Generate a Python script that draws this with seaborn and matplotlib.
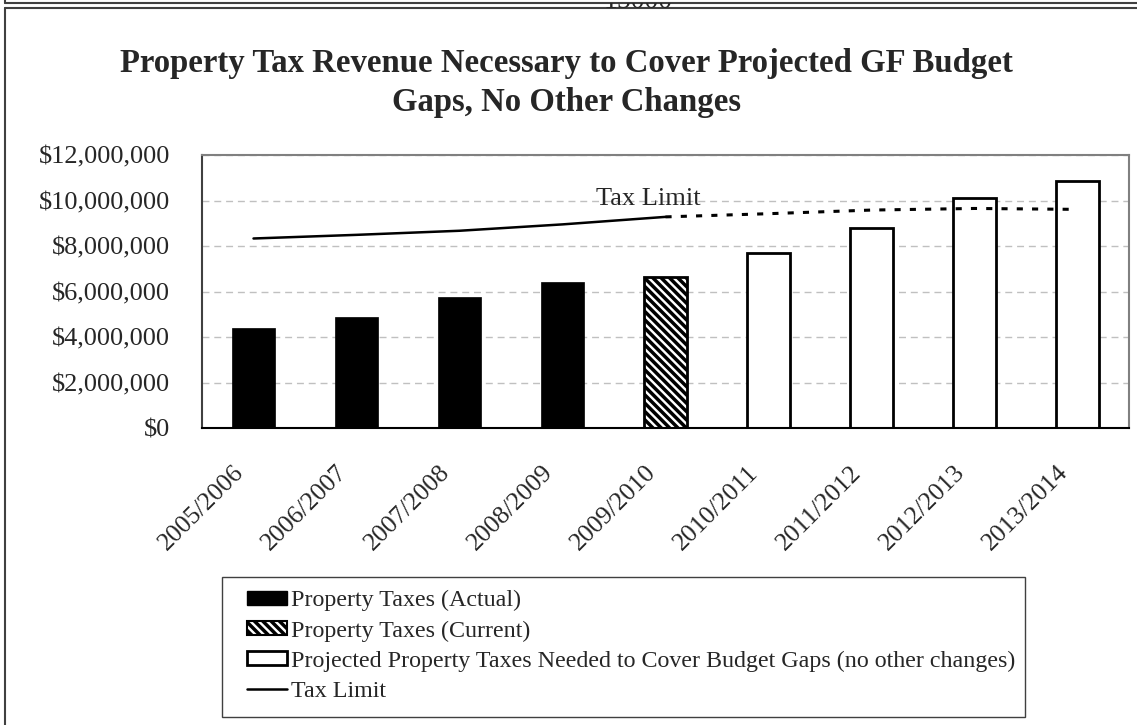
import pandas as pd
import numpy as np
import matplotlib.pyplot as plt
import matplotlib.patches as mpatches
import matplotlib.transforms as mtrans
from matplotlib.lines import Line2D
from matplotlib.ticker import FuncFormatter
import seaborn as sns

# data
periods = ['2005/2006', '2006/2007', '2007/2008', '2008/2009', '2009/2010',
           '2010/2011', '2011/2012', '2012/2013', '2013/2014']
actual = [4.40e6, 4.88e6, 5.78e6, 6.40e6]
current = [6.65e6]
projected = [7.69e6, 8.81e6, 10.09e6, 10.85e6]
tax_limit = [8.33e6, 8.49e6, 8.67e6, 8.95e6, 9.28e6]
tax_limit_proj = [9.28e6, 9.42e6, 9.58e6, 9.65e6, 9.61e6]

kinds = ['Property Taxes (Actual)', 'Property Taxes (Current)',
         'Projected Property Taxes Needed to Cover Budget Gaps (no other changes)']

df = pd.DataFrame({
    'period': periods,
    'value': actual + current + projected,
    'kind': [kinds[0]] * len(actual) + [kinds[1]] * len(current) + [kinds[2]] * len(projected),
})

sns.set_style('white')
plt.rcParams['font.family'] = ['Liberation Serif', 'DejaVu Serif']
plt.rcParams['hatch.linewidth'] = 2.5

W, H = 1137, 725
fig = plt.figure(figsize=(W / 100, H / 100), dpi=100)
ax = fig.add_axes([202 / W, 1 - 428 / H, (1129 - 202) / W, (428 - 155) / H])

sns.barplot(data=df, x='period', y='value', hue='kind', hue_order=kinds, dodge=False,
            width=0.42, palette={kinds[0]: 'black', kinds[1]: 'white', kinds[2]: 'white'},
            edgecolor='black', linewidth=2, legend=False, ax=ax, zorder=2)
for cont, kind in zip(ax.containers, kinds):
    for p in cont:
        if kind == kinds[1]:
            p.set_hatch('\\\\\\\\')
        if kind == kinds[0]:
            p.set_linewidth(0.5)

sns.lineplot(x=np.arange(0, 5), y=tax_limit, color='black', linewidth=1.8, ax=ax, zorder=4)
sns.lineplot(x=np.arange(4, 9), y=tax_limit_proj, color='black', linewidth=2.2,
             linestyle=(0, (2, 3)), ax=ax, zorder=4)
ax.text(3.83, 10.07e6, 'Tax Limit', ha='center', va='center', fontsize=19, zorder=5)

ax.set_xlim(-0.5, 8.5)
ax.set_ylim(0, 12e6)
ax.set_yticks(np.arange(0, 12e6 + 1, 2e6))
ax.yaxis.set_major_formatter(FuncFormatter(lambda v, p: f'${v:,.0f}'))
ax.set_xlabel('')
ax.set_ylabel('')

ax.set_xticks(np.arange(-0.5, 9, 1))
ax.set_xticklabels([''] * 10)
ax.set_xticks(np.arange(9), minor=True)
ax.set_xticklabels(periods, minor=True, rotation=45, ha='right', va='top',
                   rotation_mode='anchor', fontsize=18.5)
ax.tick_params(axis='x', which='minor', length=0, pad=24)
ax.tick_params(axis='both', which='major', direction='inout', length=12, width=1.2,
               color='#404040', labelsize=19)
ax.tick_params(axis='y', pad=17)
off = mtrans.ScaledTranslation(-0.21, 0, fig.dpi_scale_trans)
for lab in ax.get_xticklabels(minor=True):
    lab.set_transform(lab.get_transform() + off)

ax.yaxis.grid(True, color='#c0c0c0', linestyle=(0, (5, 3.5)), linewidth=1)
ax.set_axisbelow(True)
for side in ['top', 'right']:
    ax.spines[side].set_color('#808080')
    ax.spines[side].set_linewidth(1.5)
ax.spines['left'].set_color('#404040')
ax.spines['left'].set_linewidth(1.5)
ax.spines['bottom'].set_color('black')
ax.spines['bottom'].set_linewidth(1.5)

fig.text(566 / W, 1 - 83 / H, 'Property Tax Revenue Necessary to Cover Projected GF Budget\nGaps, No Other Changes',
         ha='center', va='center', fontsize=23.6, fontweight='bold', linespacing=1.32)

handles = [
    mpatches.Patch(facecolor='black', edgecolor='black'),
    mpatches.Patch(facecolor='white', edgecolor='black', hatch='\\\\\\\\', linewidth=1.5),
    mpatches.Patch(facecolor='white', edgecolor='black', linewidth=2),
    Line2D([], [], color='black', linewidth=1.8),
]
leg = fig.legend(handles, kinds + ['Tax Limit'], loc='upper left',
                 bbox_to_anchor=(247 / W, 1 - 590 / H), fontsize=17.3, frameon=False,
                 borderpad=0, handlelength=1.67, handleheight=0.5,
                 handletextpad=0.15, labelspacing=0.38, borderaxespad=0)
fig.add_artist(mpatches.Rectangle((222 / W, 1 - 717 / H), (1025 - 222) / W, (717 - 577) / H,
                                  transform=fig.transFigure, facecolor='none',
                                  edgecolor='#404040', linewidth=1))

# chart frame and the strip of the box above it
fc = '#404040'
fig.add_artist(Line2D([5 / W, 1], [1 - 8 / H, 1 - 8 / H], transform=fig.transFigure, color=fc, lw=1.5))
fig.add_artist(Line2D([5 / W, 5 / W], [1 - 8 / H, 0], transform=fig.transFigure, color=fc, lw=1.5))
fig.add_artist(Line2D([5 / W, 1], [1 - 2.5 / H, 1 - 2.5 / H], transform=fig.transFigure, color=fc, lw=1.5))
fig.add_artist(Line2D([5 / W, 5 / W], [1 - 2.5 / H, 1], transform=fig.transFigure, color=fc, lw=1.5))
t = fig.text(638 / W, 1 - 8 / H, '15000', ha='center', va='baseline', fontsize=20)
t.set_clip_box(mtrans.Bbox.from_extents(0, H - 8, W, H - 3))
t.set_clip_on(True)

fig.savefig('out.png', dpi=100)
